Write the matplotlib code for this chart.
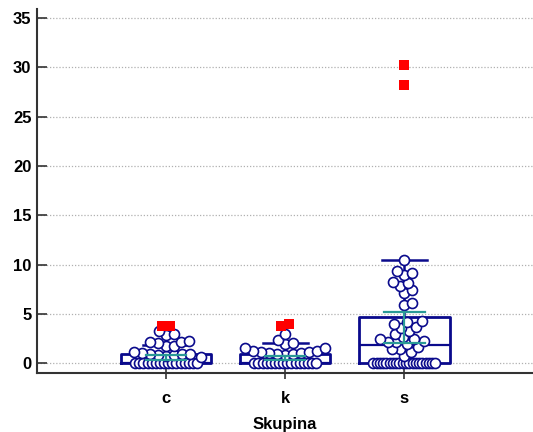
import numpy as np
import matplotlib
matplotlib.use("Agg")
import matplotlib.pyplot as plt

# ---- data ----
categories = ["c", "k", "s"]

c_values = [0.0]*16 + [0.7, 0.8, 0.9, 0.9, 1.0, 1.0, 1.0, 1.1, 1.2,
                       1.8, 1.8, 2.1, 2.2, 2.3, 2.2, 2.9, 3.0, 3.3]
k_values = [0.0]*16 + [0.9, 1.0, 1.0, 1.1, 1.1, 1.2, 1.2, 1.3, 1.3,
                       1.6, 1.6, 2.0, 2.1, 2.4, 3.0]
s_values = [0.0]*20 + [0.8, 1.2, 1.5, 1.5, 1.7, 2.0, 2.2, 2.2, 2.3, 2.5,
                       2.5, 2.7, 3.0, 3.3, 3.6, 3.7, 4.0, 4.2, 4.3, 5.9,
                       6.1, 7.1, 7.4, 7.8, 8.1, 8.3, 9.0, 9.2, 9.4, 10.5]
values = [c_values, k_values, s_values]

c_outliers = [3.8, 3.8]
k_outliers = [3.8, 4.0]
s_outliers = [28.2, 30.2]
outliers = [c_outliers, k_outliers, s_outliers]

q1 = [0.0, 0.0, 0.0]
median = [0.0, 0.0, 1.9]
q3 = [1.0, 0.95, 4.7]
whisker_low = [0.0, 0.0, 0.0]
whisker_high = [1.9, 2.1, 10.5]
ci_low = [0.3, 0.3, 2.1]
ci_high = [0.9, 0.8, 5.2]

yticks = [0, 5, 10, 15, 20, 25, 30, 35]
xlabel = "Skupina"

# ---- styling ----
NAVY = "#0a0a8c"
TEAL = "#2a9a96"
RED = "#ff0000"
FONT = "Liberation Sans"
FS = 12

fig = plt.figure(figsize=(5.33, 4.32), dpi=100)
ax = fig.add_axes([0.0694, 0.137, 0.9306, 0.842])

ax.set_xlim(-0.084, 4.08)
ax.set_ylim(-0.95, 35.9)

positions = np.arange(1, len(categories) + 1)

# box plots
stats = []
for i in range(len(categories)):
    stats.append(dict(q1=q1[i], med=median[i], q3=q3[i],
                      whislo=whisker_low[i], whishi=whisker_high[i],
                      fliers=[], label=categories[i]))
ax.bxp(stats, positions=positions, widths=0.76, showfliers=False,
       boxprops=dict(color=NAVY, linewidth=2.0),
       medianprops=dict(color=NAVY, linewidth=1.6),
       whiskerprops=dict(color=NAVY, linewidth=1.8),
       capprops=dict(color=NAVY, linewidth=1.8),
       capwidths=0.38, zorder=2)

# beeswarm in pixel space
fig.canvas.draw()
trans = ax.transData
inv = trans.inverted()
d = 10.0  # dot diameter in px
row_width = 62.0

for i, vals in enumerate(values):
    xc = positions[i]
    vals = np.sort(np.array(vals))
    placed = []
    uniq, counts = np.unique(vals, return_counts=True)
    cnt = dict(zip(uniq.tolist(), counts.tolist()))
    for u, n in cnt.items():
        if n >= 6:
            cx, cy = trans.transform((xc, u))
            step = row_width / (n - 1)
            for j in range(n):
                placed.append((cx - row_width / 2 + j * step, cy))
    rest = [v for v in vals.tolist() if cnt[v] < 6]
    for v in rest:
        cx, cy = trans.transform((xc, v))
        best = None
        for k in range(0, 50):
            for sgn in ([1] if k == 0 else [1, -1]):
                px = cx + sgn * k * 1.0
                ok = all((px - qx) ** 2 + (cy - qy) ** 2 >= (d * 0.78) ** 2
                         for qx, qy in placed)
                if ok:
                    best = px
                    break
            if best is not None:
                break
        if best is None:
            best = cx
        placed.append((best, cy))
    pts = [inv.transform(p) for p in placed]
    ax.scatter([p[0] for p in pts], [p[1] for p in pts],
               s=(d * 0.72) ** 2, facecolor="white",
               edgecolor=NAVY, linewidth=1.2, zorder=3)

# mean 95% CI (teal)
for i in range(len(categories)):
    xc = positions[i]
    ax.plot([xc, xc], [ci_low[i], ci_high[i]], color=TEAL, lw=1.6, zorder=4)
    for yv in (ci_low[i], ci_high[i]):
        ax.plot([xc - 0.17, xc + 0.17], [yv, yv], color=TEAL, lw=1.6, zorder=4)

# outliers (red squares)
for i, outs in enumerate(outliers):
    xc = positions[i]
    n = len(outs)
    offs = [0.0] * n
    if n == 2 and abs(outs[0] - outs[1]) < 1.0:
        offs = [-0.035, 0.035]
    ax.scatter([xc + o for o in offs], outs, marker="s", s=52,
               color=RED, linewidth=0, zorder=5)

# axes styling
ax.spines["top"].set_visible(False)
ax.spines["right"].set_visible(False)
for sp in ("left", "bottom"):
    ax.spines[sp].set_color("#333333")
    ax.spines[sp].set_linewidth(1.5)

ax.set_yticks(yticks)
ax.set_yticklabels([str(t) for t in yticks], fontfamily=FONT,
                   fontweight="bold", fontsize=FS)
ax.set_xticks(positions)
ax.set_xticklabels(categories, fontfamily=FONT, fontweight="bold",
                   fontsize=FS)
ax.tick_params(axis="y", direction="in", length=7, width=1.2,
               color="#333333", pad=4)
ax.tick_params(axis="x", direction="inout", length=8, width=1.2,
               color="#333333", pad=9)
ax.yaxis.grid(True, linestyle=(0, (1, 1.5)), color="#b0b0b0", linewidth=0.9)
ax.set_axisbelow(True)
ax.set_xlabel(xlabel, fontfamily=FONT, fontweight="bold", fontsize=FS,
              labelpad=8)

fig.savefig("out.png", dpi=100)
